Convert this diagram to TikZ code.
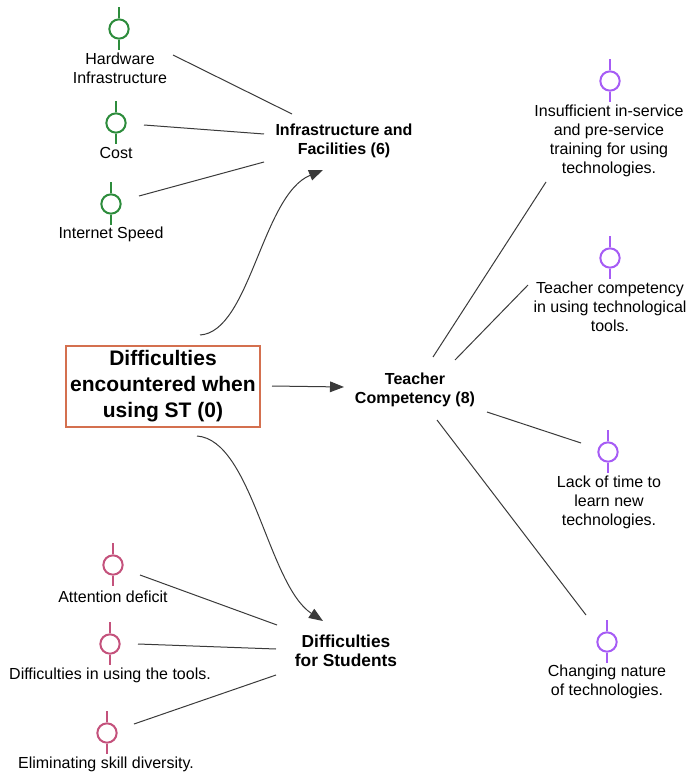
\documentclass[tikz,border=0pt]{standalone}
\usepackage{fontspec}
\setmainfont{Liberation Sans}
\usetikzlibrary{arrows.meta}
\definecolor{cgreen}{HTML}{2D8C3C}
\definecolor{cpink}{HTML}{C4527C}
\definecolor{cpurple}{HTML}{A65CF5}
\definecolor{cbox}{HTML}{D4704F}
\definecolor{cline}{HTML}{3A3A3A}
\newcommand{\myicon}[4]{%
  \node[ico,draw=#4] (#1) at (#2,#3) {};
  \draw[#4,line width=1.5pt] (#1.north) -- ++(0,-11) (#1.south) -- ++(0,10);
}
\begin{document}
\begin{tikzpicture}[x=0.75pt,y=-0.75pt,
  lbl/.style={align=center,inner sep=0pt,font=\fontsize{12}{14.25}\selectfont},
  bold/.style={align=center,inner sep=0pt,font=\fontsize{12}{14.25}\selectfont\bfseries},
  ico/.style={circle,line width=1.5pt,minimum size=14.5pt,inner sep=0pt},
  conn/.style={draw=cline,line width=0.75pt},
  arr/.style={conn,-{Triangle[length=10.5pt,width=8pt]},fill=none},
]
\useasboundingbox (0,0) rectangle (689,774);

% main box
\node[draw=cbox,line width=1.1pt,minimum width=145.5pt,minimum height=60.75pt,inner sep=0pt,
  align=center,font=\fontsize{15.75}{19.5}\selectfont\bfseries] (main) at (163,386.5)
  {Difficulties\\encountered when\\using ST (0)};

% category nodes
\node[bold] (infra) at (344,141) {Infrastructure and\\Facilities (6)};
\node[bold] (teach) at (415,390) {Teacher\\Competency (8)};
\node[bold,font=\fontsize{13}{14.5}\selectfont\bfseries] (stud) at (346,651) {Difficulties\\for Students};

% green icons
\myicon{ihw}{119}{29}{cgreen}
\node[lbl] (hw) at (120,68) {Hardware\\Infrastructure};
\myicon{icost}{116}{123}{cgreen}
\node[lbl] (cost) at (116,153) {Cost};
\myicon{inet}{111}{204}{cgreen}
\node[lbl] (net) at (111,234) {Internet Speed};

% pink icons
\myicon{iatt}{113}{565}{cpink}
\node[lbl] (att) at (113,597) {Attention deficit};
\myicon{itool}{110}{644}{cpink}
\node[lbl] (tool) at (110,675) {Difficulties in using the tools.};
\myicon{ielim}{107}{733}{cpink}
\node[lbl] (elim) at (106,764) {Eliminating skill diversity.};

% purple icons
\myicon{iins}{610}{81}{cpurple}
\node[lbl] (ins) at (609,141) {Insufficient in-service\\and pre-service\\training for using\\technologies.};
\myicon{itc}{610}{258}{cpurple}
\node[lbl] (tc) at (610,307) {Teacher competency\\in using technological\\tools.};
\myicon{ilack}{608}{452}{cpurple}
\node[lbl] (lack) at (609,502) {Lack of time to\\learn new\\technologies.};
\myicon{ichg}{607}{642}{cpurple}
\node[lbl] (chg) at (607,682) {Changing nature\\of technologies.};

% connector end points
\coordinate (hwE) at (173,55);   \coordinate (infA) at (292,114);
\coordinate (costE) at (144,125); \coordinate (infB) at (264,134);
\coordinate (netE) at (139,196);  \coordinate (infC) at (264,162);
\coordinate (attE) at (140,575);  \coordinate (stA) at (277,625);
\coordinate (toolE) at (138,644); \coordinate (stB) at (276,649);
\coordinate (elimE) at (134,724); \coordinate (stC) at (276,675);
\coordinate (insS) at (546,182);  \coordinate (tcA) at (433,357);
\coordinate (tcW) at (528,285);   \coordinate (tcB) at (455,360);
\coordinate (lackW) at (581,443); \coordinate (tcC) at (487,412);
\coordinate (chgN) at (586,615);  \coordinate (tcD) at (437,420);
\coordinate (mainT) at (200,335); \coordinate (infArr) at (323,170);
\coordinate (mainR) at (272,386); \coordinate (tchArr) at (344,387);
\coordinate (mainB) at (197,436); \coordinate (stArr) at (323,621);

\draw[conn] (hwE) -- (infA);
\draw[conn] (costE) -- (infB);
\draw[conn] (netE) -- (infC);
\draw[conn] (attE) -- (stA);
\draw[conn] (toolE) -- (stB);
\draw[conn] (elimE) -- (stC);
\draw[conn] (insS) -- (tcA);
\draw[conn] (tcW) -- (tcB);
\draw[conn] (lackW) -- (tcC);
\draw[conn] (chgN) -- (tcD);

\draw[arr] (mainT) .. controls (250,332) and (262,195) .. (infArr);
\draw[arr] (mainR) -- (tchArr);
\draw[arr] (mainB) .. controls (252,440) and (268,585) .. (stArr);
\end{tikzpicture}
\end{document}
